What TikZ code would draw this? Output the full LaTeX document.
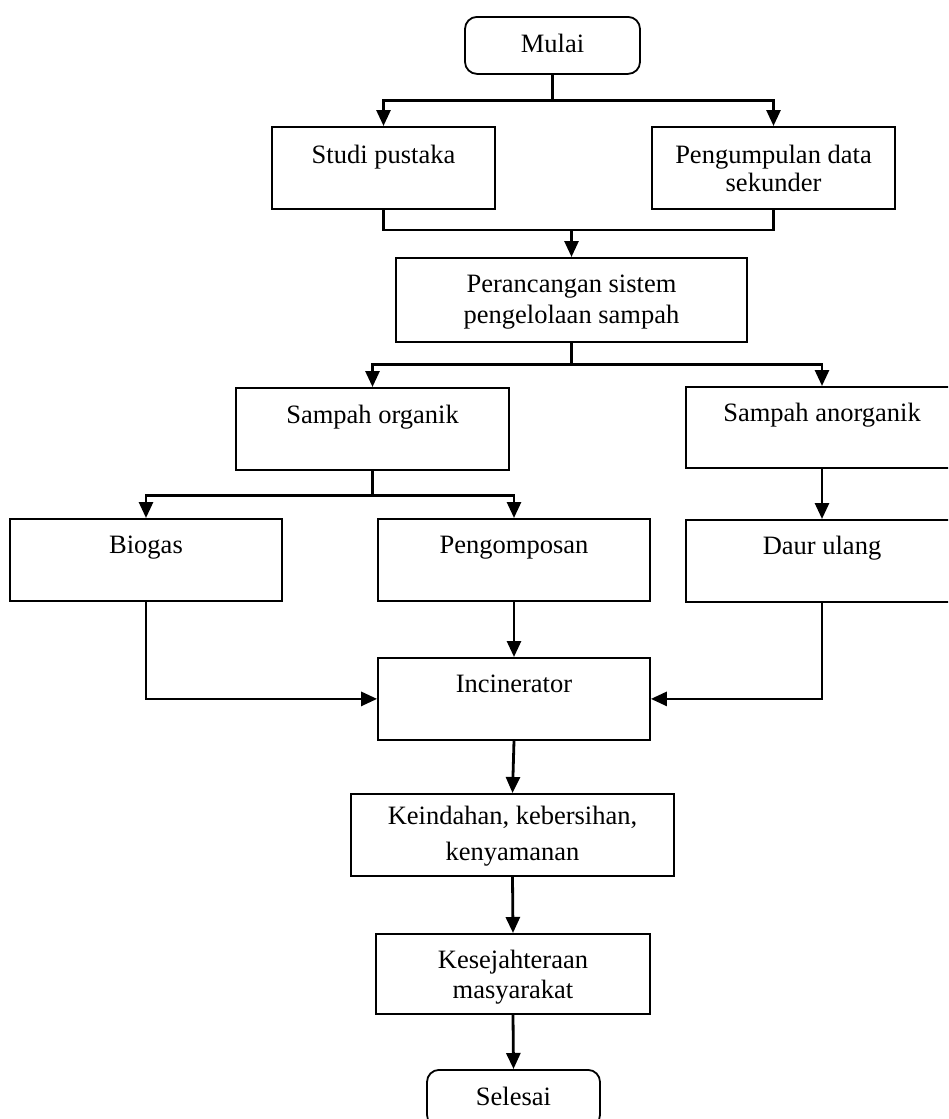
\documentclass[tikz,border=0pt]{standalone}
\usepackage{fontspec}
\setmainfont{Liberation Serif}
\usetikzlibrary{arrows.meta,calc}
\begin{document}
\begin{tikzpicture}[x=0.5pt,y=-0.5pt]
\tikzset{
 box/.style={draw, line width=0.9pt, inner sep=0pt, anchor=north},
 term/.style={box, rounded corners=6pt},
 txt/.style={anchor=base, inner sep=0pt, font=\fontsize{13.25}{16}\selectfont},
 conn/.style={line width=1.4pt},
 arr/.style={conn, -{Triangle[length=8pt,width=7pt]}},
}
\path[use as bounding box, fill=white] (0,0) rectangle (948,1119);
\clip (0,0) rectangle (948,1119);

% boxes
\node[term, minimum width=87.5pt, minimum height=28.5pt] (mulai) at (552.5,16) {};
\node[box, minimum width=111.5pt, minimum height=41pt] (studi) at (383.5,126) {};
\node[box, minimum width=121.5pt, minimum height=41pt] (peng) at (773.5,126) {};
\node[box, minimum width=175.5pt, minimum height=42pt] (peran) at (571.5,257) {};
\node[box, minimum width=136.5pt, minimum height=41pt] (org) at (372.5,387) {};
\node[box, minimum width=136pt, minimum height=40.5pt] (anorg) at (822,386) {};
\node[box, minimum width=136pt, minimum height=41pt] (bio) at (146,518) {};
\node[box, minimum width=136pt, minimum height=41pt] (komp) at (514,518) {};
\node[box, minimum width=136pt, minimum height=41pt] (daur) at (822,519) {};
\node[box, minimum width=136pt, minimum height=41pt] (inc) at (514,657) {};
\node[box, minimum width=161.5pt, minimum height=41pt] (keind) at (512.5,793) {};
\node[box, minimum width=137pt, minimum height=40pt] (sejah) at (513,933) {};
\node[term, minimum width=86.5pt, minimum height=28.5pt] (selesai) at (513.5,1069) {};

% texts
\node[txt] (tmulai) at ($(mulai.north)+(0,37)$) {Mulai};
\node[txt] (tstudi) at ($(studi.north)+(0,37)$) {Studi pustaka};
\node[txt] (tpeng1) at ($(peng.north)+(0,37)$) {Pengumpulan data};
\node[txt] (tpeng2) at ($(peng.north)+(0,65)$) {sekunder};
\node[txt] (tperan1) at ($(peran.north)+(0,35)$) {Perancangan sistem};
\node[txt] (tperan2) at ($(peran.north)+(0,66)$) {pengelolaan sampah};
\node[txt] (torg) at ($(org.north)+(0,36)$) {Sampah organik};
\node[txt] (tanorg) at ($(anorg.north)+(0,35)$) {Sampah anorganik};
\node[txt] (tbio) at ($(bio.north)+(0,35)$) {Biogas};
\node[txt] (tkomp) at ($(komp.north)+(0,35)$) {Pengomposan};
\node[txt] (tdaur) at ($(daur.north)+(0,35)$) {Daur ulang};
\node[txt] (tinc) at ($(inc.north)+(0,35)$) {Incinerator};
\node[txt] (tkeind1) at ($(keind.north)+(0,31)$) {Keindahan, kebersihan,};
\node[txt] (tkeind2) at ($(keind.north)+(0,67)$) {kenyamanan};
\node[txt] (tsejah1) at ($(sejah.north)+(0,35)$) {Kesejahteraan};
\node[txt] (tsejah2) at ($(sejah.north)+(0,65)$) {masyarakat};
\node[txt] (tselesai) at ($(selesai.north)+(0,36)$) {Selesai};

% connectors
\draw[arr] (mulai.south) -- ++(0,26) -| (studi.north);
\draw[arr] (mulai.south) -- ++(0,26) -| (peng.north);
\coordinate (m1) at (571.5,230);
\draw[conn] (studi.south) |- (m1);
\draw[conn] (peng.south) |- (m1);
\draw[arr] (m1) -- (peran.north);
\draw[arr] (peran.south) -- ++(0,22) -| (org.north);
\draw[arr] (peran.south) -- ++(0,22) -| (anorg.north);
\draw[arr] (org.south) -- ++(0,25) -| (bio.north);
\draw[arr] (org.south) -- ++(0,25) -| (komp.north);
\draw[arr] (anorg.south) -- (daur.north);
\draw[arr] (bio.south) |- (inc.west);
\draw[arr] (komp.south) -- (inc.north);
\draw[arr] (daur.south) |- (inc.east);
\draw[arr] (inc.south) -- (keind.north);
\draw[arr] (keind.south) -- (sejah.north);
\draw[arr] (sejah.south) -- (selesai.north);
\end{tikzpicture}
\end{document}
